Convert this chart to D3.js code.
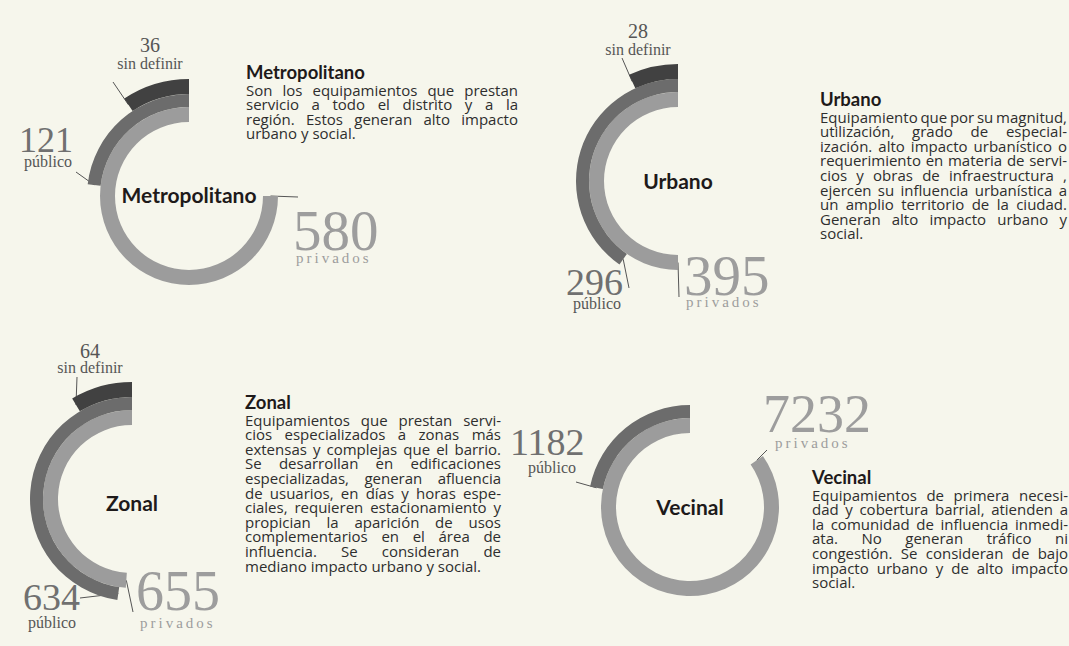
<!DOCTYPE html>
<html><head><meta charset="utf-8">
<script src="https://cdn.jsdelivr.net/npm/d3@7"></script>
<style>
html,body{margin:0;padding:0;background:#f6f6ec;}
svg{display:block;}
</style></head>
<body>
<svg id="chart" width="1069" height="646"></svg>
<script>
// ---------- DATA ----------
const categories = ["Metropolitano", "Urbano", "Zonal", "Vecinal"];
const privados   = [580, 395, 655, 7232];
const publico    = [121, 296, 634, 1182];
const sinDefinir = [36, 28, 64, null];
const seriesLabels = { privados: "privados", publico: "público", sinDefinir: "sin definir" };

const descMetropolitano = [
  "Son los equipamientos que prestan",
  "servicio a todo el distrito y a la",
  "región. Estos generan alto impacto",
  "urbano y social."
];
const descUrbano = [
  "Equipamiento que por su magnitud,",
  "utilización, grado de especial-",
  "ización. alto impacto urbanístico o",
  "requerimiento en materia de servi-",
  "cios y obras de infraestructura ,",
  "ejercen su influencia urbanística a",
  "un amplio territorio de la ciudad.",
  "Generan alto impacto urbano y",
  "social."
];
const descZonal = [
  "Equipamientos que prestan servi-",
  "cios especializados a zonas más",
  "extensas y complejas que el barrio.",
  "Se desarrollan en edificaciones",
  "especializadas, generan afluencia",
  "de usuarios, en días y horas espe-",
  "ciales, requieren estacionamiento y",
  "propician la aparición de usos",
  "complementarios en el área de",
  "influencia. Se consideran de",
  "mediano impacto urbano y social."
];
const descVecinal = [
  "Equipamientos de primera necesi-",
  "dad y cobertura barrial, atienden a",
  "la comunidad de influencia inmedi-",
  "ata. No generan tráfico ni",
  "congestión. Se consideran de bajo",
  "impacto urbano y de alto impacto",
  "social."
];
const descriptions = [descMetropolitano, descUrbano, descZonal, descVecinal];

// ---------- LAYOUT / STYLE ----------
const BG = "#f6f6ec";
const colors = { privados: "#9c9c9c", publico: "#6c6c6c", sinDefinir: "#414141" };
const rings = {
  privados:   [74, 89],
  publico:    [89, 102],
  sinDefinir: [102, 117]
};
const serifF = "'Liberation Serif', 'DejaVu Serif', serif";
const headF = "Lato, 'Open Sans', sans-serif";
const bodyF = "'Open Sans', 'Noto Sans', sans-serif";
const BODY_FS = 15;

const layout = [
  { cx: 189, cy: 196, sweep: 270,
    title: { y: 203 },
    sinDefinir: { num: [150, 52, "middle", 20], lab: [150, 69, "middle"], lead: [113, 82] },
    publico:    { num: [19, 152, "start", 36], lab: [48, 167, "middle"], lead: [76, 172] },
    privados:   { num: [293, 250, "start", 57], lab: [296, 263, "start"], lead: [298, 197] },
    desc: { x: 246, y: 79, w: 272 } },
  { cx: 678, cy: 181, sweep: 180,
    title: { y: 189 },
    sinDefinir: { num: [638, 38, "middle", 20], lab: [638, 55, "middle"], lead: [622, 58] },
    publico:    { num: [566, 295, "start", 38], lab: [597, 309, "middle"], lead: [629, 288] },
    privados:   { num: [684, 295, "start", 57], lab: [686, 307, "start"], lead: [679, 297] },
    desc: { x: 820, y: 106, w: 247 } },
  { cx: 132, cy: 499, sweep: 176,
    title: { y: 511 },
    sinDefinir: { num: [90, 358, "middle", 20], lab: [90, 373, "middle"], lead: [77, 377] },
    publico:    { num: [23, 610, "start", 38], lab: [52, 628, "middle"], lead: [80, 598] },
    privados:   { num: [136, 610, "start", 56], lab: [140, 628, "start"], lead: [133, 612] },
    desc: { x: 245, y: 409, w: 256 } },
  { cx: 690, cy: 507, sweep: 305,
    title: { y: 515 },
    sinDefinir: null,
    publico:    { num: [510, 455, "start", 38], lab: [552, 473, "middle"], lead: [576, 482] },
    privados:   { num: [763, 432, "start", 54], lab: [775, 448, "start"], lead: [767, 450] },
    desc: { x: 812, y: 484, w: 256 } }
];

const svg = d3.select("#chart");
svg.append("rect").attr("width", 1069).attr("height", 646).attr("fill", BG);

const arc = d3.arc();
const deg = Math.PI / 180;

// measuring helper
const meas = svg.append("text").attr("visibility", "hidden");
function measure(str, fs, weight, family) {
  meas.attr("font-size", fs).attr("font-weight", weight || "normal").attr("font-family", family).text(str);
  return meas.node().getComputedTextLength();
}

// justified paragraph, one text per word
function paragraph(g, lines, x, y0, W, lh, f) {
  const space = measure("a a", f, "normal", bodyF) - measure("aa", f, "normal", bodyF);
  const MINGAP = 2.6;
  lines.forEach((line, i) => {
    const y = y0 + i * lh;
    const words = line.split(/\s+/).filter(Boolean);
    const ws = words.map(w => measure(w, f, "normal", bodyF));
    const last = i === lines.length - 1 || words.length < 2;
    let gap = last ? space : (W - d3.sum(ws)) / (words.length - 1);
    let scale = 1;
    if (!last && gap < MINGAP) {
      gap = MINGAP;
      scale = (W - MINGAP * (words.length - 1)) / d3.sum(ws);
    }
    let cx = x;
    words.forEach((w, j) => {
      const t = g.append("text").attr("x", cx).attr("y", y)
        .attr("font-family", bodyF).attr("font-size", f).attr("fill", "#2e2e2e").text(w);
      if (scale < 1) t.attr("textLength", (ws[j] * scale).toFixed(2)).attr("lengthAdjust", "spacingAndGlyphs");
      cx += ws[j] * scale + gap;
    });
  });
}

categories.forEach((cat, i) => {
  const L = layout[i];
  const g = svg.append("g").attr("transform", `translate(${L.cx},${L.cy})`);
  const vals = { privados: privados[i], publico: publico[i], sinDefinir: sinDefinir[i] };
  const maxV = d3.max([privados[i], publico[i], sinDefinir[i] || 0]);
  const angle = d3.scalePow().exponent(0.75).domain([0, maxV]).range([0, L.sweep * deg]);

  const keys = ["privados", "publico", "sinDefinir"].filter(k => vals[k] != null && L[k]);

  // leader lines (under arcs)
  keys.forEach(k => {
    const a = -angle(vals[k]);
    const rm = (rings[k][0] + rings[k][1]) / 2;
    const px = rm * Math.sin(a), py = -rm * Math.cos(a);
    g.append("line")
      .attr("x1", px).attr("y1", py)
      .attr("x2", L[k].lead[0] - L.cx).attr("y2", L[k].lead[1] - L.cy)
      .attr("stroke", "#555").attr("stroke-width", 1);
  });

  // arcs
  keys.forEach(k => {
    g.append("path")
      .attr("d", arc({ innerRadius: rings[k][0], outerRadius: rings[k][1], startAngle: 0, endAngle: -angle(vals[k]) }))
      .attr("fill", colors[k]);
  });

  // center title
  svg.append("text").attr("x", L.cx).attr("y", L.title.y)
    .attr("text-anchor", "middle").attr("font-family", headF).attr("font-weight", "bold")
    .attr("font-size", 21).attr("fill", "#1e1a1a").text(cat);

  // value labels
  keys.forEach(k => {
    const s = L[k];
    const isPriv = k === "privados";
    svg.append("text").attr("x", s.num[0]).attr("y", s.num[1]).attr("text-anchor", s.num[2])
      .attr("font-family", serifF).attr("font-size", s.num[3])
      .attr("fill", isPriv ? "#9d9d9d" : (k === "publico" ? "#707070" : "#555"))
      .text(d3.format("d")(vals[k]));
    svg.append("text").attr("x", s.lab[0]).attr("y", s.lab[1]).attr("text-anchor", s.lab[2])
      .attr("font-family", serifF).attr("font-size", isPriv ? 15 : 16)
      .attr("letter-spacing", isPriv ? 3 : 0)
      .attr("fill", isPriv ? "#9d9d9d" : "#555")
      .text(seriesLabels[k]);
  });

  // description
  const D = L.desc;
  const dg = svg.append("g");
  dg.append("text").attr("x", D.x).attr("y", D.y).attr("font-family", headF).attr("font-size", 18.5)
    .attr("font-weight", "bold").attr("fill", "#1e1a1a").text(cat);
  paragraph(dg, descriptions[i], D.x, D.y + 16.5, D.w, 14.6, BODY_FS);
});
meas.remove();
</script>
</body></html>
